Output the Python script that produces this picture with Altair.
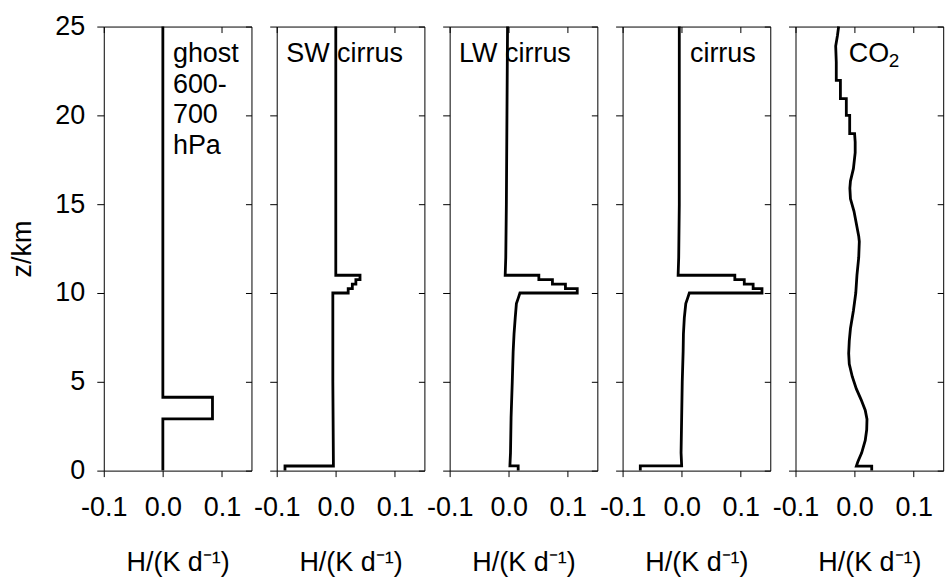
import altair as alt
import pandas as pd

FONT = "Liberation Sans"

# ---- axes ----
x_ticks = [-0.1, 0.0, 0.1]
y_ticks = [0, 5, 10, 15, 20, 25]
x_domain = [-0.1, 0.15]
y_domain = [0, 25]
x_title = "H/(K d\u207b\u00b9)"
y_title = "z/km"

# ---- profiles (z in km, H in K/day) ----
ghost_z = [0, 2.91, 2.91, 4.13, 4.13, 25]
ghost_h = [0, 0, 0.084, 0.084, 0, 0]

sw_z = [0, 0.26, 0.26, 5.0, 10.0, 10.0, 10.25, 10.25, 10.5, 10.5, 10.75, 10.75, 11.0, 11.0, 25]
sw_h = [-0.086, -0.086, -0.004, -0.005, -0.005, 0.021, 0.021, 0.028, 0.028, 0.034, 0.034, 0.041, 0.041, 0.0, 0.0]

lw_z = [0, 0.27, 0.27, 1, 3, 5, 6.7, 7.7, 8.6, 9.4, 9.7, 10, 10, 10.25, 10.25, 10.5, 10.5,
        10.75, 10.75, 11, 11, 12, 15, 20, 25]
lw_h = [0.016, 0.016, 0.002, 0.003, 0.004, 0.006, 0.0075, 0.009, 0.011, 0.013, 0.016, 0.019,
        0.116, 0.116, 0.096, 0.096, 0.074, 0.074, 0.051, 0.051, -0.006, -0.005, -0.004, -0.003, -0.002]

cirrus_z = [0, 0.27, 0.27, 1, 3, 5, 6.7, 7.7, 8.6, 9.4, 9.7, 10, 10, 10.25, 10.25, 10.5, 10.5,
            10.75, 10.75, 11, 11, 12, 15, 20, 25]
cirrus_h = [-0.070, -0.070, 0.0, -0.001, 0.0, 0.001, 0.0025, 0.003, 0.0045, 0.007, 0.010, 0.013,
            0.136, 0.136, 0.121, 0.121, 0.106, 0.106, 0.090, 0.090, -0.006, -0.005, -0.004, -0.004, -0.004]

co2_z = [0, 0.25, 0.25, 0.5, 1.0, 1.7, 2.3, 2.9, 3.4, 4.0, 4.6, 5.3, 6.0, 6.6, 7.3, 8.0, 9.0,
         10.0, 11.0, 12.0, 12.9, 13.2, 13.9, 14.6, 15.3, 15.9, 16.3, 17.0, 17.9, 18.5, 18.97,
         18.97, 20.0, 20.0, 20.94, 20.94, 21.97, 21.97, 23.0, 23.9, 24.5, 25.0]
co2_h = [0.029, 0.029, 0.003, 0.0055, 0.012, 0.018, 0.0205, 0.021, 0.018, 0.011, 0.003, -0.004,
         -0.009, -0.010, -0.009, -0.007, -0.002, 0.002, 0.004, 0.007, 0.008, 0.007, 0.003, -0.001,
         -0.007, -0.008, -0.007, -0.002, 0.001, 0.001, 0.0, -0.0083, -0.0083, -0.014, -0.014,
         -0.024, -0.024, -0.031, -0.031, -0.032, -0.029, -0.027]

panel_names = ["ghost", "sw", "lw", "cirrus", "co2"]
profiles = {
    "ghost": (ghost_z, ghost_h),
    "sw": (sw_z, sw_h),
    "lw": (lw_z, lw_h),
    "cirrus": (cirrus_z, cirrus_h),
    "co2": (co2_z, co2_h),
}

# ---- annotations ----
ann_panel = ["ghost", "ghost", "ghost", "ghost", "sw", "lw", "cirrus", "co2", "co2"]
ann_text = ["ghost", "600-", "700", "hPa", "SW cirrus", "LW cirrus", "cirrus", "CO", "2"]
ann_h = [0.017, 0.017, 0.017, 0.017, -0.084, -0.084, 0.014, -0.010, 0.058]
ann_z = [23.03, 21.27, 19.58, 17.84, 23.0, 23.0, 23.0, 23.0, 22.7]
ann_size = [27, 27, 27, 27, 27, 27, 27, 27, 19]

rows = []
for p in panel_names:
    zs, hs = profiles[p]
    for i, (z, h) in enumerate(zip(zs, hs)):
        rows.append({"panel": p, "idx": i, "z": z, "h": h})
df = pd.DataFrame(rows)

ann = pd.DataFrame({"panel": ann_panel, "text": ann_text, "h": ann_h, "z": ann_z, "fs": ann_size})

xs = alt.Scale(domain=x_domain, nice=False, zero=False)
ys = alt.Scale(domain=y_domain, nice=False, zero=False)
label_expr = "datum.value < 0 ? '-' + format(-datum.value, '.1f') : format(datum.value, '.1f')"

W, H = 148, 445


def panel(name, first):
    d = df[df.panel == name]
    a = ann[ann.panel == name]
    bottom = alt.Axis(orient="bottom", values=x_ticks, labelExpr=label_expr, tickSize=6,
                      labelPadding=18, titlePadding=29, grid=False, domain=False,
                      labelFlush=False, labelOverlap=False)
    if first:
        left = alt.Axis(orient="left", values=y_ticks, tickSize=7, labelPadding=12,
                        titlePadding=18, grid=False, domain=False, labelFlush=False,
                        labelOverlap=False)
        ytitle = y_title
    else:
        left = alt.Axis(orient="left", values=y_ticks, tickSize=7, labels=False,
                        grid=False, domain=False)
        ytitle = None
    line = alt.Chart(d).mark_line(color="black", strokeWidth=2.8, strokeJoin="miter").encode(
        x=alt.X("h:Q", scale=xs, axis=bottom, title=x_title),
        y=alt.Y("z:Q", scale=ys, axis=left, title=ytitle),
        order="idx:Q",
    )
    frame = alt.Chart(d).mark_line(opacity=0).encode(
        x=alt.X("h:Q", scale=xs, title=None,
                axis=alt.Axis(orient="top", values=x_ticks, labels=False, tickSize=6,
                              offset=-6, domain=False, grid=False)),
        y=alt.Y("z:Q", scale=ys, title=None,
                axis=alt.Axis(orient="right", values=y_ticks, labels=False, tickSize=6,
                              offset=-6, domain=False, grid=False)),
        order="idx:Q",
    )
    text = alt.Chart(a).mark_text(align="left", baseline="alphabetic", font=FONT,
                                  color="black").encode(
        x=alt.X("h:Q", scale=xs, axis=None),
        y=alt.Y("z:Q", scale=ys, axis=None),
        text="text:N",
        size=alt.Size("fs:Q", scale=None, legend=None),
    )
    return alt.layer(line, frame, text).resolve_axis(x="independent", y="independent").properties(
        width=W, height=H)


chart = alt.hconcat(*[panel(n, i == 0) for i, n in enumerate(panel_names)],
                    spacing=25.3, bounds="flush").properties(
    padding={"left": 8, "top": 11, "right": 0, "bottom": 0}
).configure_view(stroke="black", strokeWidth=1).configure_axis(
    labelFont=FONT, titleFont=FONT, labelFontSize=27, titleFontSize=27,
    labelColor="black", titleColor="black", tickColor="black", tickWidth=1,
    titleFontWeight="normal"
)

chart.save("out.html", embed_options={"renderer": "svg", "actions": False})
